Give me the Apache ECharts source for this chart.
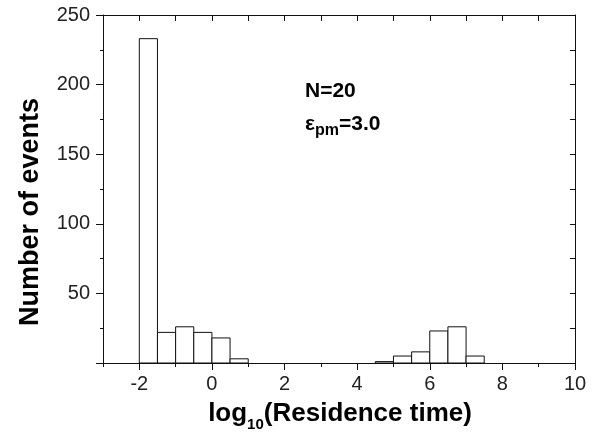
<!DOCTYPE html>
<html><head><meta charset="utf-8">
<script src="https://cdn.jsdelivr.net/npm/echarts@6/dist/echarts.min.js"></script>
<style>html,body{margin:0;padding:0;background:#fff}#c{width:595px;height:438px}</style>
</head><body><div id="c"></div>
<script>
// Histogram bins (left edge, count), bin width 0.5
const binStarts = [-2, -1.5, -1, -0.5, 0, 0.5, 4.5, 5, 5.5, 6, 6.5, 7];
const binCounts = [233, 22, 26, 22, 18, 3, 1, 5, 8, 23, 26, 5];
const binWidth = 0.5;
const xTickLabels = [-2, 0, 2, 4, 6, 8, 10];
const yTickLabels = [50, 100, 150, 200, 250];

const FONT = 'Liberation Sans, Arial, Helvetica, sans-serif';
const chart = echarts.init(document.getElementById('c'), null, {renderer: 'canvas'});
const lineStyle = {color: '#111', width: 1};

const option = {
  animation: false,
  backgroundColor: '#fff',
  grid: {left: 103, top: 15, width: 472, height: 348, containLabel: false},
  xAxis: [
    {type: 'value', position: 'bottom', min: -3, max: 10, interval: 1,
     axisLine: {show: true, onZero: false, lineStyle},
     axisTick: {show: true, length: 4, inside: false, lineStyle},
     axisLabel: {show: true, customValues: xTickLabels, fontSize: 20, color: '#222', fontFamily: FONT, margin: 11,
                 formatter: v => xTickLabels.includes(v) ? String(v) : ''},
     splitLine: {show: false}},
    {type: 'value', position: 'bottom', min: -3, max: 10, interval: 1,
     axisLine: {show: false, onZero: false},
     axisTick: {show: true, length: 7, inside: false, customValues: xTickLabels, lineStyle},
     axisLabel: {show: false}, splitLine: {show: false}},
    {type: 'value', position: 'top', min: -3, max: 10, interval: 1,
     axisLine: {show: true, onZero: false, lineStyle},
     axisTick: {show: true, length: 6, inside: true, lineStyle},
     axisLabel: {show: false}, splitLine: {show: false}}
  ],
  yAxis: [
    {type: 'value', position: 'left', min: 0, max: 250, interval: 50,
     axisLine: {show: true, onZero: false, lineStyle},
     axisTick: {show: true, length: 7, inside: false, lineStyle},
     minorTick: {show: true, splitNumber: 2, length: 3, lineStyle},
     axisLabel: {show: true, fontSize: 20, color: '#222', fontFamily: FONT, margin: 13,
                 formatter: v => yTickLabels.includes(v) ? String(v) : ''},
     splitLine: {show: false}},
    {type: 'value', position: 'right', min: 0, max: 250, interval: 25,
     axisLine: {show: true, onZero: false, lineStyle},
     axisTick: {show: true, length: 5, inside: true, lineStyle},
     axisLabel: {show: false}, splitLine: {show: false}}
  ],
  series: [{
    type: 'custom',
    xAxisIndex: 0, yAxisIndex: 0,
    encode: {x: 0, y: 1},
    data: binStarts.map((s, i) => [s, binCounts[i]]),
    renderItem: function (params, api) {
      const x0 = api.value(0), c = api.value(1);
      const p0 = api.coord([x0, c]);
      const p1 = api.coord([x0 + binWidth, 0]);
      return {type: 'rect',
        shape: {x: p0[0], y: p0[1], width: p1[0] - p0[0], height: p1[1] - p0[1]},
        style: {fill: '#fff', stroke: '#111', lineWidth: 1}};
    }
  }],
  graphic: [
    {type: 'text', x: 31, y: 212, rotation: Math.PI / 2,
     style: {text: 'Number of events', font: 'bold 27px ' + FONT, fill: '#000', align: 'center', verticalAlign: 'middle'}},
    {type: 'text', x: 340, y: 414,
     style: {text: '{m|log}{s|10}{m|(Residence time)}', align: 'center', verticalAlign: 'middle', fill: '#000',
       rich: {m: {font: 'bold 26px ' + FONT, lineHeight: 36, verticalAlign: 'middle'},
              s: {font: 'bold 15px ' + FONT, lineHeight: 10, verticalAlign: 'bottom'}}}},
    {type: 'text', x: 305, y: 91,
     style: {text: 'N=20', font: 'bold 21px ' + FONT, fill: '#000', align: 'left', verticalAlign: 'middle'}},
    {type: 'text', x: 305, y: 124,
     style: {text: '{m|ε}{s|pm}{m|=3.0}', align: 'left', verticalAlign: 'middle', fill: '#000',
       rich: {m: {font: 'bold 21px ' + FONT, lineHeight: 30, verticalAlign: 'middle'},
              s: {font: 'bold 16px ' + FONT, lineHeight: 10, verticalAlign: 'bottom'}}}}
  ]
};
chart.setOption(option);
</script>
</body></html>
